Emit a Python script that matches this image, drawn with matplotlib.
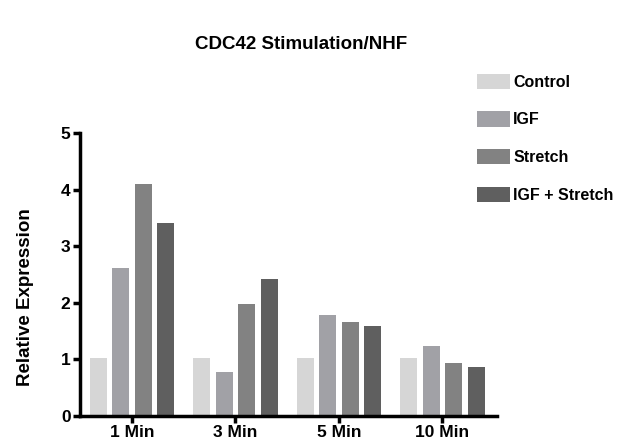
import numpy as np
import matplotlib.pyplot as plt
from matplotlib.patches import Patch

# ----- data ------------------------------------------------------------------
times = ["1 Min", "3 Min", "5 Min", "10 Min"]
groups = ["Control", "IGF", "Stretch", "IGF + Stretch"]
control = [1.02, 1.02, 1.03, 1.03]
igf = [2.62, 0.77, 1.79, 1.23]
stretch = [4.11, 1.97, 1.66, 0.93]
igf_stretch = [3.42, 2.42, 1.58, 0.86]
colors = ["#d6d6d6", "#a1a1a6", "#828282", "#5f5f5f"]

plt.rcParams["font.family"] = ["Liberation Sans", "DejaVu Sans"]
plt.rcParams["font.weight"] = "bold"

fig = plt.figure(figsize=(6.27, 4.46), dpi=100)
ax = fig.add_axes([0.128, 0.068, 0.665, 0.633])

x = np.arange(len(times))
step = 0.218
width = 0.165
series = [control, igf, stretch, igf_stretch]
for i, vals in enumerate(series):
    ax.bar(x + (i - 1.5) * step, vals, width, color=colors[i], zorder=2)

ax.set_xlim(-0.5, 3.53)
ax.set_ylim(0, 5)
ax.set_xticks(x)
ax.set_xticklabels(times, fontsize=12.5, fontweight="bold")
ax.set_yticks(range(6))
ax.set_yticklabels([str(v) for v in range(6)], fontsize=12.5, fontweight="bold")
for side in ["top", "right"]:
    ax.spines[side].set_visible(False)
for side in ["left", "bottom"]:
    ax.spines[side].set_linewidth(2.5)
ax.tick_params(axis="both", width=2.5, length=5, pad=2)
ax.set_ylabel("Relative Expression", fontsize=13.5, fontweight="bold")
ax.yaxis.set_label_coords(-0.11, 0.42)

fig.text(0.48, 0.9, "CDC42 Stimulation/NHF", fontsize=13.5, fontweight="bold",
         ha="center", va="center")

handles = [Patch(facecolor=c, edgecolor="none") for c in colors]
fig.legend(handles, groups, loc="upper left", bbox_to_anchor=(0.761, 0.835),
           frameon=False, handlelength=2.05, handleheight=1.1,
           handletextpad=0.2, labelspacing=1.35, borderpad=0, borderaxespad=0,
           prop={"weight": "bold", "size": 11.5})

fig.savefig("out.png", dpi=100)
